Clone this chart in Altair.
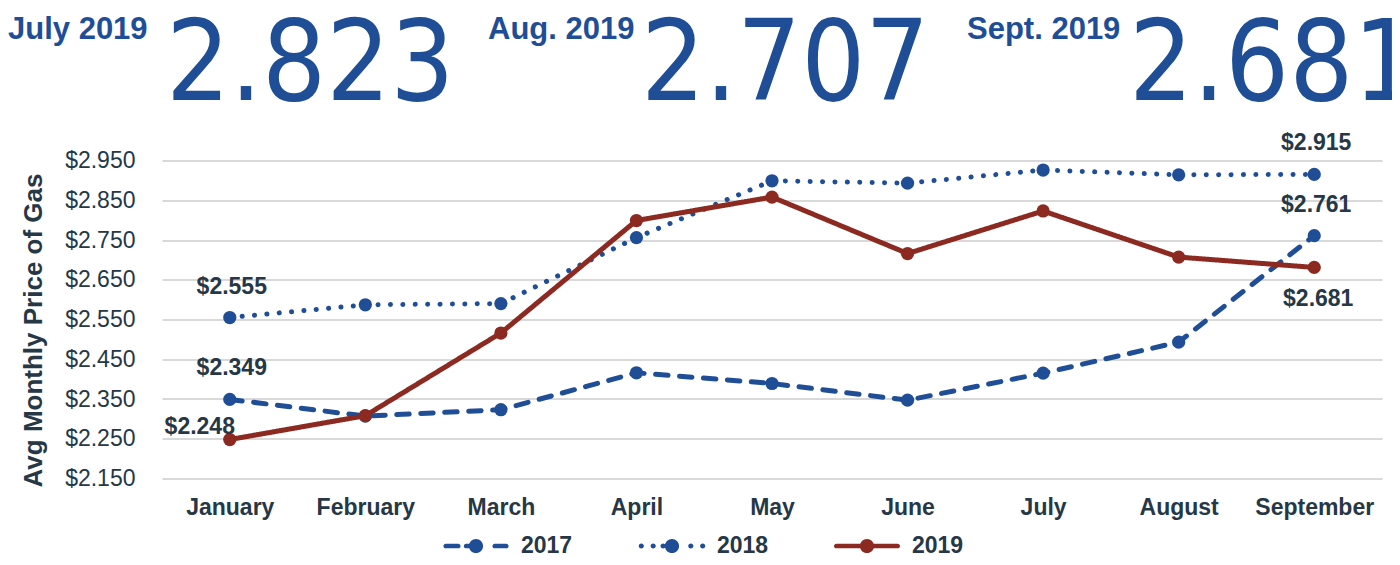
import altair as alt
import pandas as pd

# ---------------- data ----------------
months = ["January", "February", "March", "April", "May", "June", "July", "August", "September"]
years = ["2017", "2018", "2019"]
price_2017 = [2.349, 2.307, 2.323, 2.416, 2.389, 2.347, 2.415, 2.493, 2.761]
price_2018 = [2.555, 2.587, 2.590, 2.756, 2.899, 2.893, 2.926, 2.914, 2.915]
price_2019 = [2.248, 2.308, 2.516, 2.799, 2.858, 2.716, 2.823, 2.707, 2.681]
y_ticks = [2.15, 2.25, 2.35, 2.45, 2.55, 2.65, 2.75, 2.85, 2.95]
header_labels = ["July 2019", "Aug. 2019", "Sept. 2019"]
header_values = ["2.823", "2.707", "2.681"]

# ---------------- styles ----------------
BLUE = "#1f4e96"
RED = "#8c2a22"
DARK = "#263746"
GRID = "#d9d9d9"
FONT = "Liberation Sans"
series_colors = [BLUE, BLUE, RED]
series_dash = [[12.5, 11.5], [0.1, 12.3], [1, 0]]


def capsule(x0, x1, t):
    return (f"M{x0},{-t}H{x1}A{t},{t},0,0,1,{x1},{t}"
            f"H{x0}A{t},{t},0,0,1,{x0},{-t}Z")


def circ(cx, r):
    return (f"M{cx - r},0A{r},{r},0,1,1,{cx + r},0"
            f"A{r},{r},0,1,1,{cx - r},0Z")


T = 0.07
R = 0.215
r = 0.078
legend_paths = [
    capsule(-0.917, -0.538, T) + capsule(-0.3, 0, T) + circ(0, R) + capsule(0.568, 0.917, T),
    circ(-0.93, r) + circ(-0.57, r) + circ(-0.27, r) + circ(0, R) + circ(0.57, r) + circ(0.93, r),
    capsule(-1.0 + T, 1.0 - T, T) + circ(0, R),
]

rows = []
for yr, vals in zip(years, [price_2017, price_2018, price_2019]):
    for m, v in zip(months, vals):
        rows.append({"month": m, "year": yr, "price": v})
df = pd.DataFrame(rows)

x_enc = alt.X(
    "month:N",
    sort=months,
    scale=alt.Scale(type="point", padding=0.5),
    axis=alt.Axis(
        title=None, labelAngle=0, ticks=False, domain=False, grid=False,
        labelFont=FONT, labelFontSize=23, labelFontWeight="bold",
        labelColor=DARK, labelPadding=18,
    ),
)
y_enc = alt.Y(
    "price:Q",
    scale=alt.Scale(domain=[2.15, 2.95], zero=False, nice=False),
    axis=alt.Axis(
        values=y_ticks, format="$.3f", ticks=False, domain=False,
        gridColor=GRID, gridWidth=2,
        labelFont=FONT, labelFontSize=23, labelColor=DARK, labelPadding=27,
        title="Avg Monthly Price of Gas", titleFont=FONT, titleFontSize=26,
        titleFontWeight="bold", titleColor=DARK, titleX=-129, titleY=169.5,
        titleAngle=270, titleAlign="center", titleBaseline="middle",
    ),
)

# series scales take their domain from the data (sorted years)
color_scale = alt.Scale(range=series_colors)

base = alt.Chart(df)

lines = base.mark_line(strokeWidth=5, strokeCap="round", strokeJoin="round").encode(
    x=x_enc,
    y=y_enc,
    color=alt.Color("year:N", scale=color_scale, legend=None),
    strokeDash=alt.StrokeDash("year:N", scale=alt.Scale(range=series_dash), legend=None),
)

points = base.mark_circle(size=175, opacity=1).encode(
    x=x_enc,
    y=y_enc,
    color=alt.Color("year:N", scale=color_scale, legend=None),
)

legend_kw = dict(
    title=None, orient="none", legendX=281, legendY=352.5, direction="horizontal",
    columnPadding=65, symbolSize=4356, symbolStrokeWidth=0, symbolOpacity=1,
    labelFont=FONT, labelFontSize=23, labelFontWeight="bold", labelColor=DARK,
    labelOffset=12, padding=0,
)

# legend-only layer: no rows are drawn, the legend comes from the scales' domains
legend_layer = base.transform_filter("datum.price < 0").mark_point(filled=True).encode(
    x=x_enc,
    y=y_enc,
    fill=alt.Fill("year:N", scale=alt.Scale(domain=years, range=series_colors), legend=alt.Legend(**legend_kw)),
    shape=alt.Shape("year:N", scale=alt.Scale(domain=years, range=legend_paths), legend=alt.Legend(**legend_kw)),
)

label_text = alt.Text("price:Q", format="$.3f")
label_style = dict(font=FONT, fontSize=23, fontWeight="bold", color=DARK)

labels_above = base.transform_filter(
    "(datum.month == 'January' && datum.year != '2019') || (datum.month == 'September' && datum.year != '2019')"
).mark_text(dy=-31, dx=2, **label_style).encode(x=x_enc, y=y_enc, text=label_text)

label_jan19 = base.transform_filter(
    "datum.month == 'January' && datum.year == '2019'"
).mark_text(dx=-30, dy=-13, **label_style).encode(x=x_enc, y=y_enc, text=label_text)

label_sep19 = base.transform_filter(
    "datum.month == 'September' && datum.year == '2019'"
).mark_text(dx=4, dy=32, **label_style).encode(x=x_enc, y=y_enc, text=label_text)

# header: month labels and big digital readouts
header_label_x = [-154, 326, 805]
header_value_x = [4, 479, 967]
header_layers = []
for lab, val, lx, vx in zip(header_labels, header_values, header_label_x, header_value_x):
    header_layers.append(
        alt.Chart(pd.DataFrame({"t": [lab]})).mark_text(
            align="left", baseline="alphabetic", font=FONT, fontSize=31,
            fontWeight="bold", color=BLUE,
        ).encode(text="t:N", x=alt.value(lx), y=alt.value(-121.5))
    )
    header_layers.append(
        alt.Chart(pd.DataFrame({"t": [val]})).mark_text(
            align="left", baseline="alphabetic", font="DejaVu Sans Condensed",
            fontSize=112, fontWeight="normal", color=BLUE,
        ).encode(text="t:N", x=alt.value(vx), y=alt.value(-60.5))
    )

chart = alt.layer(
    lines, points, legend_layer, labels_above, label_jan19, label_sep19, *header_layers
).properties(
    width=1220,
    height=318,
    padding={"left": 154, "top": 152.5, "right": 10, "bottom": 78.5},
    autosize=alt.AutoSizeParams(type="none"),
    background="white",
).configure_view(stroke=None)

chart.save("out.html", embed_options={"renderer": "svg", "actions": False})
